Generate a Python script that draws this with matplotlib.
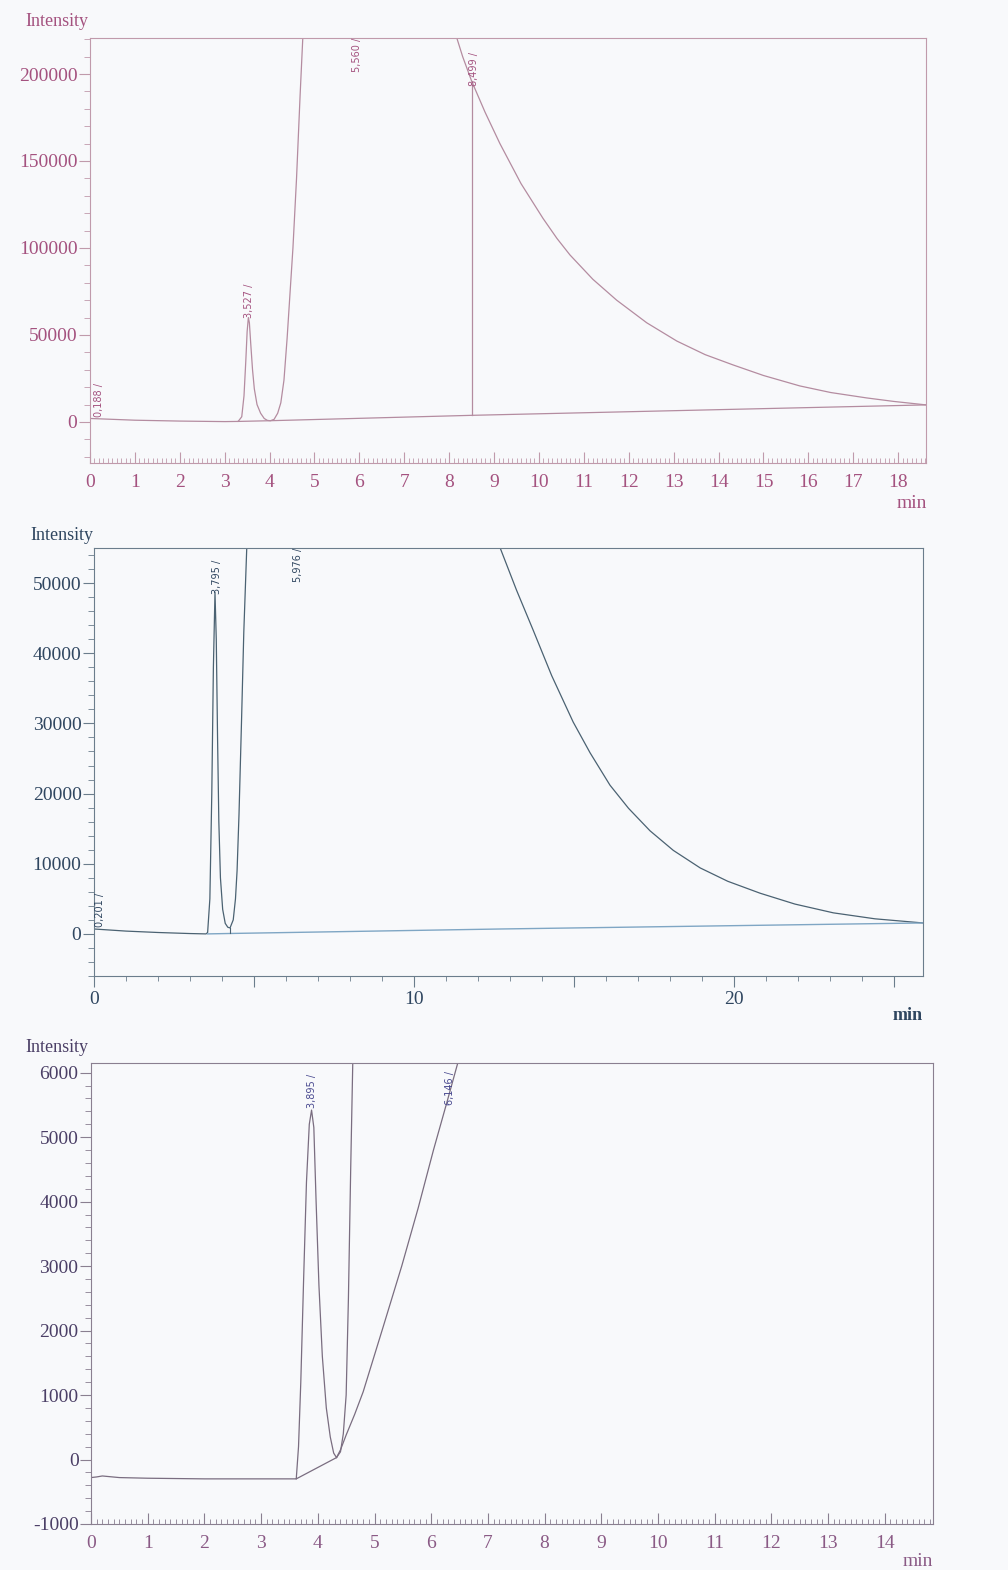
import matplotlib
matplotlib.use("Agg")
import matplotlib.pyplot as plt
from matplotlib.ticker import MultipleLocator, FuncFormatter

plt.rcParams['font.family'] = ['Liberation Serif', 'DejaVu Serif']
plt.rcParams['axes.unicode_minus'] = False

W, H = 1008, 1570
BG = '#f8f9fb'

# ---------------- panel 1 (pink) ----------------
p1_rise_t = [0.0, 0.5, 1.0, 2.0, 3.0, 3.30, 3.38, 3.43, 3.47, 3.50, 3.527, 3.55, 3.58,
             3.62, 3.66, 3.72, 3.80, 3.88, 3.95, 4.02, 4.10, 4.18, 4.25, 4.32, 4.39,
             4.46, 4.52, 4.60, 4.68, 4.76]
p1_rise_y = [2000, 1500, 1000, 500, 200, 300, 3000, 15000, 35000, 52000, 60000, 57000, 45000,
             30000, 19000, 10000, 5000, 2000, 900, 700, 1500, 5000, 11000, 24000, 48000,
             76000, 100000, 140000, 188000, 232000]
p1_fall_t = [8.10, 8.17, 8.30, 8.499, 8.80, 9.13, 9.60, 10.09, 10.40, 10.69, 11.20, 11.73,
             12.40, 13.07, 13.70, 14.32, 15.00, 15.81, 16.50, 17.30, 17.90, 18.62]
p1_fall_y = [232000, 220700, 210000, 196000, 178000, 160000, 137000, 117000, 105500, 96000,
             82000, 70000, 57000, 46500, 38700, 32800, 26700, 20700, 16900, 13800, 11800, 9800]
p1_base_t = [3.30, 4.00, 8.499, 18.62]
p1_base_y = [300, 700, 3800, 9800]
p1_drop_t = 8.499
p1_drop_y = [3800, 196000]
p1_labels = ['0,188 /', '3,527 /', '5,560 /', '8,499 /']
p1_label_t = [0.19, 3.55, 5.95, 8.55]
p1_label_y = [3000, 60000, 201000, 193000]

# ---------------- panel 2 (blue) ----------------
p2_rise_t = [0.0, 0.5, 1.0, 2.0, 3.0, 3.50, 3.55, 3.62, 3.68, 3.73, 3.78, 3.82, 3.86,
             3.90, 3.95, 4.02, 4.10, 4.18, 4.25, 4.35, 4.42, 4.47, 4.53, 4.61, 4.68, 4.78]
p2_rise_y = [700, 550, 400, 200, 50, 0, 200, 5000, 20000, 38000, 48700, 42000, 28000,
             16000, 8000, 3500, 1500, 950, 850, 2000, 5000, 9000, 17000, 30500, 43000, 56000]
p2_fall_t = [12.60, 12.69, 13.20, 13.72, 14.30, 14.97, 15.50, 16.12, 16.70, 17.37, 18.10,
             18.94, 19.80, 20.81, 21.90, 23.10, 24.40, 25.90]
p2_fall_y = [56000, 55000, 49000, 43300, 36800, 30200, 25800, 21200, 17900, 14700, 11900,
             9400, 7500, 5800, 4250, 3000, 2150, 1560]
p2_base_t = [3.55, 4.25, 12.70, 25.90]
p2_base_y = [0, 60, 700, 1560]
p2_drop_t = 4.25
p2_drop_y = [60, 850]
p2_labels = ['0,201 /', '3,795 /', '5,976 /']
p2_label_t = [0.20, 3.84, 6.37]
p2_label_y = [1000, 48500, 50200]

# ---------------- panel 3 (violet) ----------------
p3_trace_t = [0.0, 0.1, 0.2, 0.5, 1.0, 2.0, 3.0, 3.62, 3.66, 3.70, 3.75, 3.80, 3.85,
              3.89, 3.93, 3.97, 4.02, 4.08, 4.15, 4.22, 4.28, 4.33, 4.40, 4.45, 4.50,
              4.54, 4.58, 4.62]
p3_trace_y = [-280, -270, -255, -280, -290, -300, -300, -300, 200, 1200, 2800, 4300, 5200,
              5420, 5150, 4000, 2700, 1600, 800, 350, 100, 30, 120, 400, 1000,
              2500, 4500, 6300]
p3_slope_t = [4.33, 4.40, 4.50, 4.65, 4.80, 5.15, 5.48, 5.77, 6.04, 6.28, 6.50]
p3_slope_y = [30, 150, 380, 700, 1050, 2050, 3000, 3900, 4800, 5550, 6250]
p3_base_t = [3.62, 4.33]
p3_base_y = [-300, 30]
p3_labels = ['3,895 /', '6,146 /']
p3_label_t = [3.90, 6.33]
p3_label_y = [5450, 5500]

fig = plt.figure(figsize=(W / 100, H / 100), dpi=100, facecolor=BG)


def box(l, r, t, b):
    return [l / W, 1 - b / H, (r - l) / W, (b - t) / H]


def style(ax, spine_col, text_col, xtext_col=None, xdir='in'):
    ax.set_facecolor(BG)
    for s in ax.spines.values():
        s.set_color(spine_col)
        s.set_linewidth(0.8)
    ax.tick_params(axis='y', which='major', direction='out', length=8, width=0.8,
                   colors=spine_col, labelcolor=text_col, labelsize=14, pad=1)
    ax.tick_params(axis='y', which='minor', direction='out', length=4, width=0.6,
                   colors=spine_col)
    ax.tick_params(axis='x', which='major', direction=xdir, length=8, width=0.8,
                   colors=spine_col, labelcolor=xtext_col or text_col, labelsize=14,
                   pad=8 if xdir == 'in' else 3)
    ax.tick_params(axis='x', which='minor', direction=xdir, length=3.5, width=0.6,
                   colors=spine_col)


def peak_labels(ax, names, ts, ys, col):
    for n, t, y in zip(names, ts, ys):
        ax.text(t, y, n, rotation=90, ha='center', va='bottom', fontsize=7,
                color=col, family=['Liberation Sans Narrow', 'DejaVu Sans'])


# panel 1
c1_line = '#b48ca0'
c1_text = '#a4527f'
ax1 = fig.add_axes(box(90, 926, 38, 463))
ax1.plot(p1_rise_t, p1_rise_y, color=c1_line, lw=0.9)
ax1.plot(p1_fall_t, p1_fall_y, color=c1_line, lw=0.9)
ax1.plot(p1_base_t, p1_base_y, color=c1_line, lw=0.9)
ax1.plot([p1_drop_t, p1_drop_t], p1_drop_y, color=c1_line, lw=0.9)
peak_labels(ax1, p1_labels, p1_label_t, p1_label_y, c1_text)
ax1.set_xlim(0, 18.62)
ax1.set_ylim(-23600, 220700)
ax1.xaxis.set_major_locator(MultipleLocator(1))
ax1.xaxis.set_minor_locator(MultipleLocator(0.1))
ax1.yaxis.set_major_locator(MultipleLocator(50000))
ax1.yaxis.set_minor_locator(MultipleLocator(10000))
style(ax1, '#c09aab', c1_text)
fig.text(25 / W, 1 - 22 / H, 'Intensity', color=c1_text, fontsize=13, va='center')
fig.text(912 / W, 1 - 503 / H, 'min', color=c1_text, fontsize=14, ha='center', va='center')

# panel 2
c2_line = '#4b6272'
c2_base = '#7fa6c4'
c2_text = '#2f4660'
ax2 = fig.add_axes(box(94, 923, 548, 976))
ax2.plot(p2_rise_t, p2_rise_y, color=c2_line, lw=0.9)
ax2.plot(p2_fall_t, p2_fall_y, color=c2_line, lw=0.9)
ax2.plot(p2_base_t, p2_base_y, color=c2_base, lw=1.0)
ax2.plot([p2_drop_t, p2_drop_t], p2_drop_y, color=c2_line, lw=0.8)
peak_labels(ax2, p2_labels, p2_label_t, p2_label_y, c2_text)
ax2.set_xlim(0, 25.9)
ax2.set_ylim(-6000, 55000)
ax2.xaxis.set_major_locator(MultipleLocator(5))
ax2.xaxis.set_minor_locator(MultipleLocator(1))
ax2.xaxis.set_major_formatter(FuncFormatter(lambda v, p: '%d' % v if round(v) % 10 == 0 else ''))
ax2.yaxis.set_major_locator(MultipleLocator(10000))
ax2.yaxis.set_minor_locator(MultipleLocator(2000))
style(ax2, '#6b7d8c', c2_text, xdir='out')
fig.text(30 / W, 1 - 535 / H, 'Intensity', color=c2_text, fontsize=13, va='center')
fig.text(908 / W, 1 - 1015 / H, 'min', color=c2_text, fontsize=13, ha='center', va='center',
         fontweight='bold')

# panel 3
c3_line = '#7a6d80'
c3_text = '#4b3f66'
c3_xtext = '#8a5a85'
ax3 = fig.add_axes(box(91, 933, 1063, 1524))
ax3.plot(p3_trace_t, p3_trace_y, color=c3_line, lw=0.9)
ax3.plot(p3_slope_t, p3_slope_y, color=c3_line, lw=0.9)
ax3.plot(p3_base_t, p3_base_y, color=c3_line, lw=0.9)
peak_labels(ax3, p3_labels, p3_label_t, p3_label_y, '#4a4a90')
ax3.set_xlim(0, 14.85)
ax3.set_ylim(-1000, 6150)
ax3.xaxis.set_major_locator(MultipleLocator(1))
ax3.xaxis.set_minor_locator(MultipleLocator(0.1))
ax3.yaxis.set_major_locator(MultipleLocator(1000))
ax3.yaxis.set_minor_locator(MultipleLocator(200))
style(ax3, '#8a7f90', c3_text, xtext_col=c3_xtext)
fig.text(25 / W, 1 - 1048 / H, 'Intensity', color=c3_text, fontsize=13, va='center')
fig.text(918 / W, 1 - 1562 / H, 'min', color=c3_xtext, fontsize=14, ha='center', va='center')

fig.savefig('out.png', dpi=100, facecolor=BG)
